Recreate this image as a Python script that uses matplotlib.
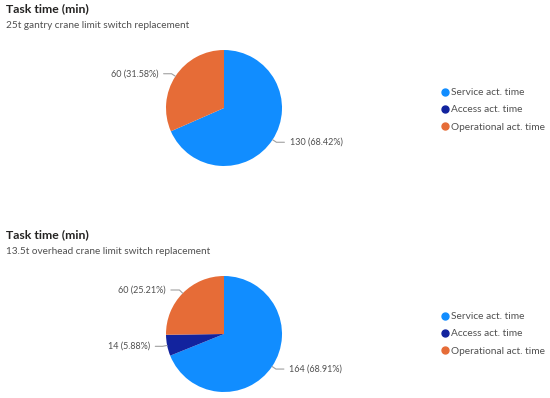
import numpy as np
import matplotlib
matplotlib.use("Agg")
import matplotlib.pyplot as plt
from matplotlib.lines import Line2D

plt.rcParams['font.family'] = ['Lato', 'DejaVu Sans']

categories = ["Service act. time", "Access act. time", "Operational act. time"]
colors = ["#118DFF", "#12239E", "#E66C37"]
title = "Task time (min)"
subtitles = ["25t gantry crane limit switch replacement",
             "13.5t overhead crane limit switch replacement"]
gantry_values = [130, 0, 60]
overhead_values = [164, 14, 60]

W, H = 550, 398
fig = plt.figure(figsize=(W / 100, H / 100), dpi=100)


def px_axes(cx, cy, r):
    return fig.add_axes([(cx - r) / W, (H - cy - r) / H, 2 * r / W, 2 * r / H])


def draw_pie(ax, values):
    total = sum(values)
    wedges, _ = ax.pie(values, colors=colors, startangle=90, counterclock=False,
                       radius=1, wedgeprops=dict(linewidth=0))
    ax.set_xlim(-1, 1)
    ax.set_ylim(-1, 1)
    ax.set_aspect('equal')
    for w, v in zip(wedges, values):
        if v == 0:
            continue
        ang = np.deg2rad((w.theta1 + w.theta2) / 2)
        x, y = np.cos(ang), np.sin(ang)
        side = 1 if x >= 0 else -1
        txt = f"{v} ({v / total * 100:.2f}%)"
        ax.annotate(txt, xy=(x, y), xytext=(x + side * 0.3, y * 1.08),
                    ha='left' if side > 0 else 'right', va='center',
                    fontsize=6.5, color='#505050', annotation_clip=False,
                    arrowprops=dict(arrowstyle='-', color='#A0A0A0', lw=0.8,
                                    shrinkA=2, shrinkB=0,
                                    connectionstyle=f"angle,angleA=0,angleB={np.rad2deg(ang):.1f}"))


def draw_legend(top_px):
    handles = [Line2D([], [], marker='o', linestyle='', markersize=5,
                      markerfacecolor=c, markeredgecolor=c) for c in colors]
    fig.legend(handles, categories, loc='upper left',
               bbox_to_anchor=(442 / W, 1 - top_px / H), frameon=False,
               borderaxespad=0, borderpad=0, handlelength=0.6, handletextpad=0.25,
               labelspacing=0.8, fontsize=7.3, labelcolor='#505050')


for ty, values, sub, cy, ly in [(3, gantry_values, subtitles[0], 108, 88),
                                (229, overhead_values, subtitles[1], 334, 312)]:
    fig.text(6 / W, 1 - ty / H, title, ha='left', va='top', fontsize=8.8,
             fontweight='bold', color='#252423')
    fig.text(6 / W, 1 - (ty + 18.5) / H, sub, ha='left', va='top', fontsize=7.2,
             color='#505050')
    ax = px_axes(224, cy, 58)
    draw_pie(ax, values)
    draw_legend(ly)

fig.savefig("out.png", dpi=100)
